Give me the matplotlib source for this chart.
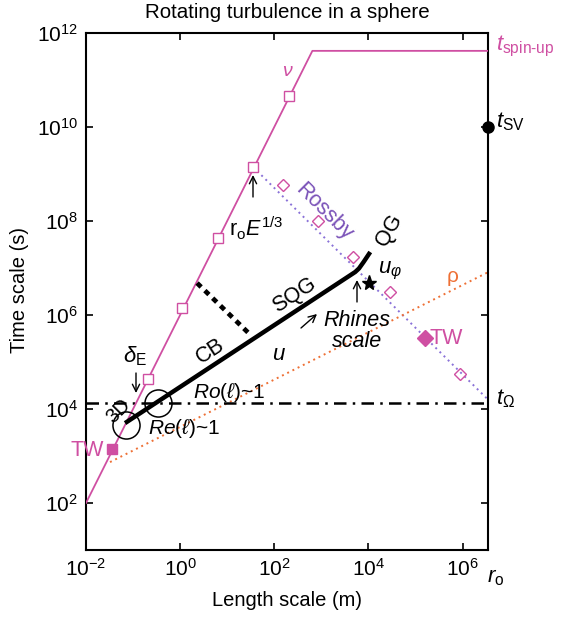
import numpy as np
import matplotlib
matplotlib.use('Agg')
import matplotlib.pyplot as plt

plt.rcParams['font.family'] = ['Liberation Sans', 'DejaVu Sans']
plt.rcParams['mathtext.fontset'] = 'custom'
plt.rcParams['mathtext.rm'] = 'Liberation Sans'
plt.rcParams['mathtext.it'] = 'Liberation Sans:italic'
plt.rcParams['mathtext.bf'] = 'Liberation Sans:bold'

# ---------------- data ----------------
r_o = 3.48e6
nu_l = [1e-2, 10**2.81, r_o]
nu_t = [1e2, 10**11.62, 10**11.62]
nu_sq_l = [10**-0.68, 10**0.04, 10**0.81, 10**1.55, 10**2.32]
nu_sq_t = [10**4.64, 10**6.15, 10**7.64, 10**9.15, 10**10.66]
tw_sq_l = [10**-1.45]
tw_sq_t = [10**3.15]
rossby_l = [10**1.55, r_o]
rossby_t = [10**9.15, 10**4.2]
ros_d_l = [10**2.19, 10**2.94, 10**3.68, 10**4.45, 10**5.94]
ros_d_t = [10**8.77, 10**8.0, 10**7.23, 10**6.48, 10**4.74]
tw_d_l = [10**5.21]
tw_d_t = [10**5.51]
rho_l = [10**-1.49, r_o]
rho_t = [10**2.87, 10**6.91]
t_omega = 10**4.13
u_l = [10**-1.17, 10**3.72, 10**3.80, 10**3.90, 10**4.04]
u_t = [10**3.70, 10**6.915, 10**6.99, 10**7.13, 10**7.34]
cb_l = [10**0.36, 10**1.45]
cb_t = [10**6.68, 10**5.62]
circle_l = [10**-1.15, 10**-0.47]
circle_t = [10**3.66, 10**4.13]
star_l = [10**4.02]
star_t = [10**6.68]
t_sv = [1e10]
xticks = [1e-2, 1e0, 1e2, 1e4, 1e6]
xticklabels = [r'$10^{-2}$', r'$10^{0}$', r'$10^{2}$', r'$10^{4}$', r'$10^{6}$']
yticks = [1e2, 1e4, 1e6, 1e8, 1e10, 1e12]
yticklabels = [r'$10^{2}$', r'$10^{4}$', r'$10^{6}$', r'$10^{8}$', r'$10^{10}$', r'$10^{12}$']

MAG = '#cf4fa2'
PUR = '#7a52b8'
ROS = '#8a72d8'
ORA = '#ee7035'

W, H = 570, 617
fig = plt.figure(figsize=(W/100, H/100), dpi=100)
ax = fig.add_axes([86/W, 1-550/H, 402/W, 517/H])
ax.set_xscale('log'); ax.set_yscale('log')
ax.set_xlim(1e-2, r_o); ax.set_ylim(1e1, 1e12)

# lines
ax.plot(nu_l, nu_t, color=MAG, lw=1.3, zorder=3)
ax.plot(rossby_l, rossby_t, color=ROS, lw=1.4, ls=(0, (1, 2.0)), zorder=2)
ax.plot(rho_l, rho_t, color=ORA, lw=1.4, ls=(0, (1, 2.0)), zorder=2)
ax.axhline(t_omega, color='black', lw=1.8, ls=(0, (5, 2.5, 1, 2.5)), zorder=2)
ax.plot(u_l, u_t, color='black', lw=3.2, solid_capstyle='butt', zorder=4)
ax.plot(cb_l, cb_t, color='black', lw=3.4, ls=(0, (1.2, 1.1)), zorder=4)

# markers
ax.plot(nu_sq_l, nu_sq_t, ls='none', marker='s', ms=6.5, mfc='white', mec=MAG, mew=1.0, zorder=5)
ax.plot(tw_sq_l, tw_sq_t, ls='none', marker='s', ms=7, mfc=MAG, mec=MAG, zorder=5)
ax.plot(ros_d_l, ros_d_t, ls='none', marker='D', ms=6.5, mfc='none', mec=MAG, mew=1.0, zorder=5)
ax.plot(tw_d_l, tw_d_t, ls='none', marker='D', ms=8, mfc=MAG, mec=MAG, zorder=5)
ax.plot(circle_l, circle_t, ls='none', marker='o', ms=19.5, mfc='none', mec='black', mew=1.1, zorder=5)
ax.plot(star_l, star_t, ls='none', marker='*', ms=11, color='black', zorder=5)
ax.plot([r_o], t_sv, ls='none', marker='o', ms=8, color='black', clip_on=False, zorder=6)

# axes styling
ax.minorticks_off()
ax.set_xticks(xticks); ax.set_xticklabels(xticklabels)
ax.set_yticks(yticks); ax.set_yticklabels(yticklabels)
ax.tick_params(which='both', direction='in', top=True, right=True, length=5, width=1.2,
               labelsize=15, pad=6)
for s in ax.spines.values():
    s.set_linewidth(1.5)

def ft(px, py, s, **kw):
    fig.text(px/W, 1-py/H, s, **kw)

def arrow(x0, y0, x1, y1):
    fig.add_artist(matplotlib.patches.FancyArrowPatch(
        (x0/W, 1-y0/H), (x1/W, 1-y1/H), transform=fig.transFigure,
        arrowstyle='->', mutation_scale=13, lw=1.0, color='black',
        shrinkA=0, shrinkB=0))

ft(287, 13, 'Rotating turbulence in a sphere', fontsize=14.8, ha='center', va='center')
ft(287, 600, 'Length scale (m)', fontsize=14.5, ha='center', va='center')
ft(20, 290, 'Time scale (s)', fontsize=14.5, ha='center', va='center', rotation=90)
ft(487, 578, r'$r_{\mathrm{o}}$', fontsize=16, ha='left', va='center')

ft(496, 46, r'$t_{\mathrm{spin\text{-}up}}$', fontsize=16, ha='left', va='center', color=MAG)
ft(496, 122, r'$t_{\mathrm{SV}}$', fontsize=16, ha='left', va='center')
ft(496, 399, r'$t_{\Omega}$', fontsize=16, ha='left', va='center')

ft(288, 72, r'$\nu$', fontsize=14, ha='center', va='center', color=MAG)
ft(324, 212, 'Rossby', fontsize=15.5, ha='center', va='center', color=PUR, rotation=-45)
ft(389, 230, 'QG', fontsize=15.5, ha='center', va='center', rotation=60)
ft(294, 295, 'SQG', fontsize=15.5, ha='center', va='center', rotation=33)
ft(210, 351, 'CB', fontsize=15.5, ha='center', va='center', rotation=33)
ft(278, 355, 'u', fontsize=16, ha='center', va='center', style='italic')
arrow(301, 328, 317, 314)
ft(357, 331, 'Rhines\nscale', fontsize=15.5, ha='center', va='center', style='italic',
   linespacing=0.95)
ft(453, 277, 'ρ', fontsize=15, ha='center', va='center', color=ORA)
ft(430, 339, 'TW', fontsize=15.5, ha='left', va='center', color=MAG)
ft(104, 450, 'TW', fontsize=15.5, ha='right', va='center', color=MAG)
ft(135, 356, r'$\delta_{\mathrm{E}}$', fontsize=16, ha='center', va='center')
arrow(136, 373, 136, 393)
ft(118, 411, '3D', fontsize=14.5, ha='center', va='center', rotation=45)
ft(148, 429, r'$Re(\ell)$~1', fontsize=15, ha='left', va='center')
ft(193, 392, r'$Ro(\ell)$~1', fontsize=15, ha='left', va='center')
ft(229, 228, r'r$_{\mathrm{o}}$$E^{1/3}$', fontsize=15.5, ha='left', va='center')
arrow(253, 197, 253, 175)
arrow(357, 302, 357, 280)
ft(378, 271, r'$u_{\varphi}$', fontsize=16, ha='left', va='center')

fig.savefig('out.png', dpi=100)
